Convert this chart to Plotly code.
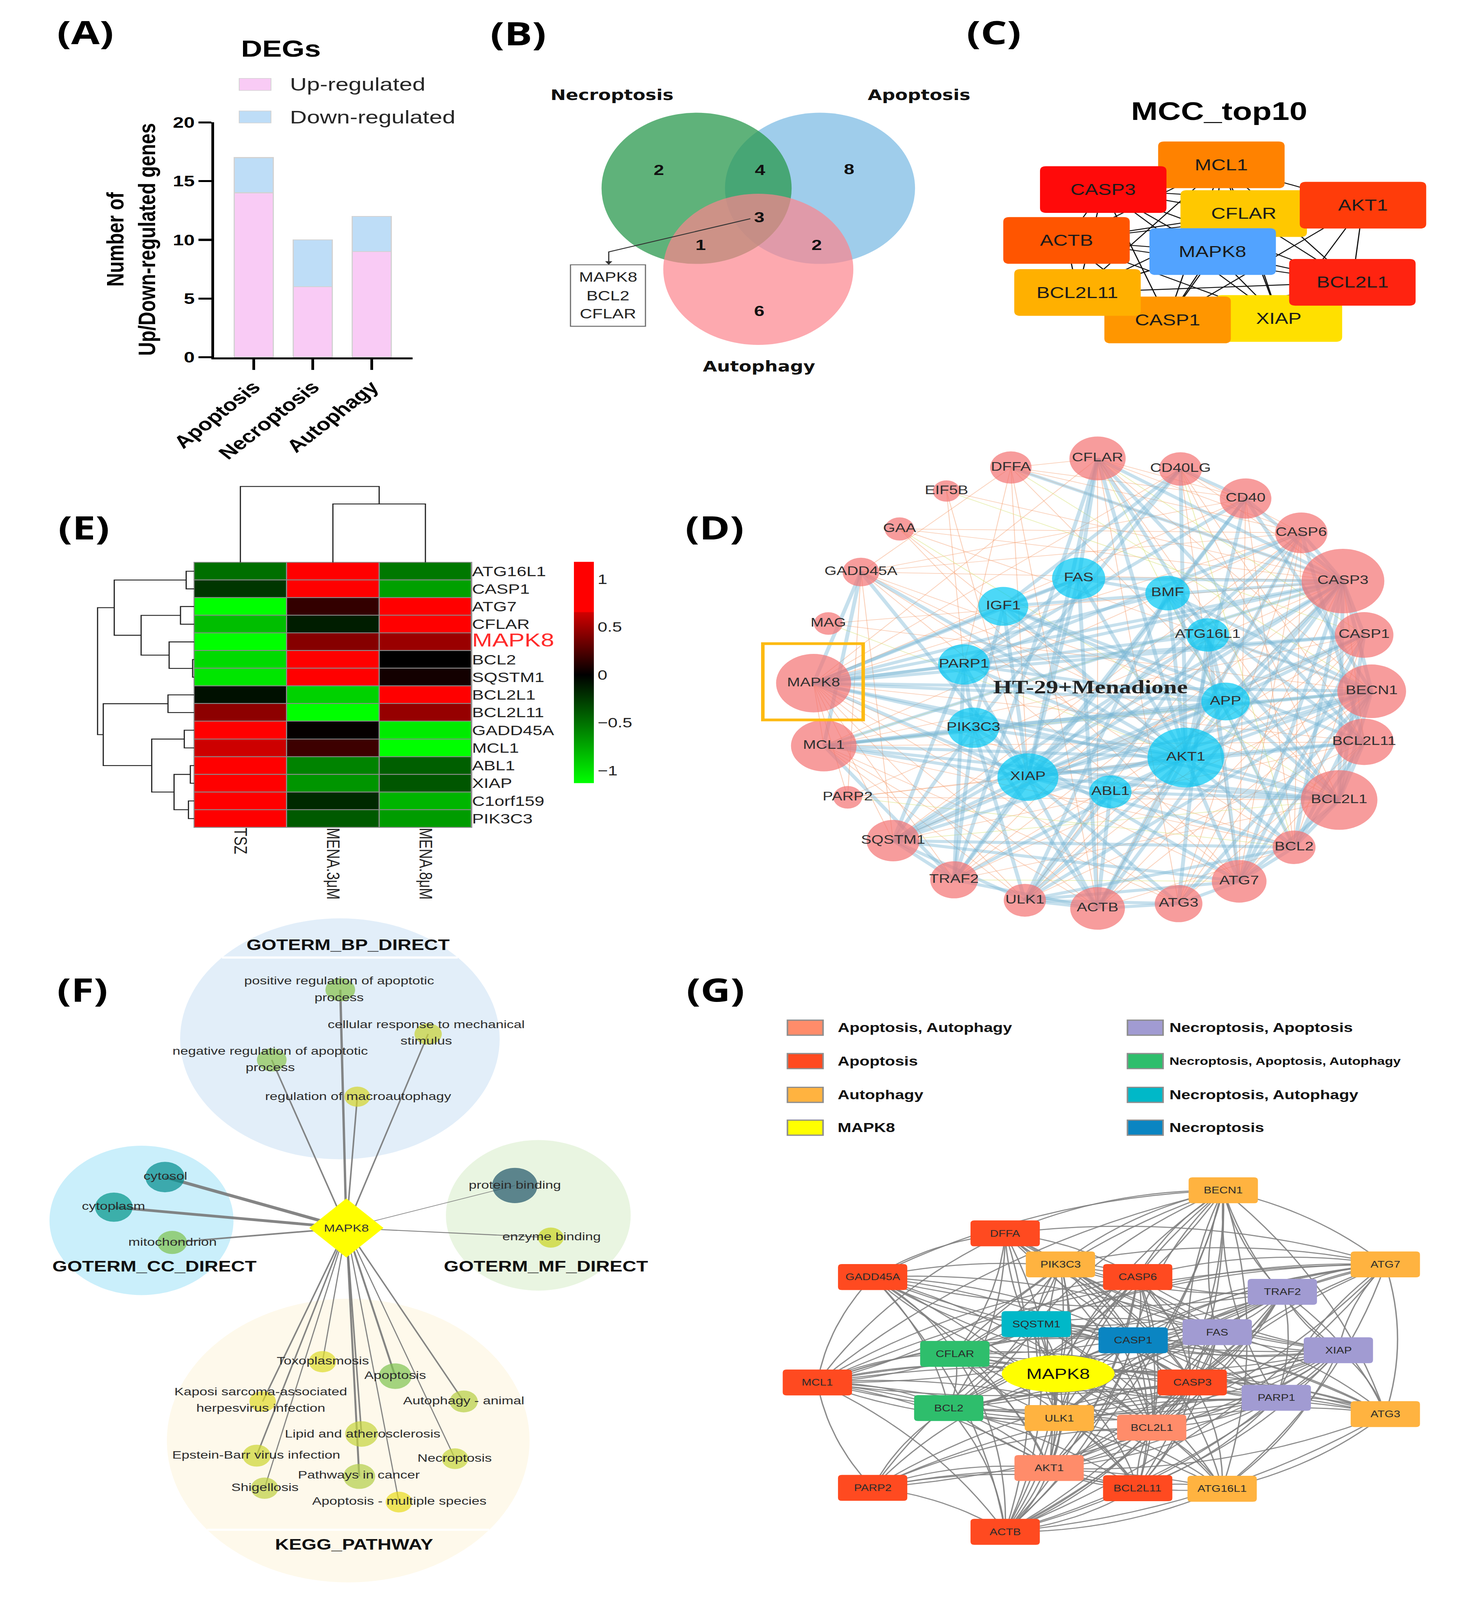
import math
import itertools
import plotly.graph_objects as go

W, H = 3760, 5257

# ======================= DATA =======================
# (A) numbers of DEGs
deg_categories = ['Apoptosis', 'Necroptosis', 'Autophagy']
deg_up = [14, 6, 9]
deg_down = [3, 4, 3]
deg_series = ['Up-regulated', 'Down-regulated']

# (B) Venn region counts
venn_sets = ['Necroptosis', 'Apoptosis', 'Autophagy']
venn_regions = ['N', 'N&A', 'A', 'N&A&Au', 'N&Au', 'A&Au', 'Au']
venn_counts = [2, 4, 8, 3, 1, 2, 6]
venn_core_genes = ['MAPK8', 'BCL2', 'CFLAR']

# (C) MCC top10 hub genes
mcc_genes = ['MCL1', 'CASP3', 'CFLAR', 'AKT1', 'ACTB', 'MAPK8', 'XIAP', 'CASP1', 'BCL2L11', 'BCL2L1']
mcc_edges = list(itertools.combinations(mcc_genes, 2))

# (E) heatmap (row-scaled expression)
hm_samples = ['TSZ', 'MENA.3μM', 'MENA.8μM']
hm_genes = ['ATG16L1', 'CASP1', 'ATG7', 'CFLAR', 'MAPK8', 'BCL2', 'SQSTM1', 'BCL2L1',
            'BCL2L11', 'GADD45A', 'MCL1', 'ABL1', 'XIAP', 'C1orf159', 'PIK3C3']
hm_tsz = [-0.49, -0.24, -1.13, -0.84, -1.13, -0.97, -1.02, -0.07, 0.44, 1.10, 0.64, 1.10, 1.10, 1.10, 1.10]
hm_mena3 = [1.10, 1.10, 0.16, -0.13, 0.42, 1.10, 0.90, -0.93, -1.13, 0.02, 0.19, -0.58, -0.66, -0.18, -0.40]
hm_mena8 = [-0.53, -0.71, 0.75, 1.10, 0.48, 0.00, 0.06, 1.10, 0.47, -1.04, -1.13, -0.42, -0.38, -0.80, -0.69]
# cluster trees: (left, right, merge height)
hm_row_tree = (
    (('ATG16L1', 'CASP1', 0.21),
     (('ATG7', 'CFLAR', 0.36), ('MAPK8', ('BCL2', 'SQSTM1', 0.04), 0.66), 1.40),
     2.11),
    (('BCL2L1', 'BCL2L11', 0.69),
     (('GADD45A', 'MCL1', 0.26), (('ABL1', 'XIAP', 0.10), ('C1orf159', 'PIK3C3', 0.15), 0.53), 1.12),
     2.40),
    2.55)
hm_col_tree = ('TSZ', ('MENA.3μM', 'MENA.8μM', 1.94), 2.52)

# (D) PPI network HT-29 + Menadione
d_outer = ['CFLAR', 'CD40LG', 'CD40', 'CASP6', 'CASP3', 'CASP1', 'BECN1', 'BCL2L11', 'BCL2L1', 'BCL2',
           'ATG7', 'ATG3', 'ACTB', 'ULK1', 'TRAF2', 'SQSTM1', 'PARP2', 'MCL1', 'MAPK8', 'MAG',
           'GADD45A', 'GAA', 'EIF5B', 'DFFA']
d_inner = ['FAS', 'BMF', 'IGF1', 'ATG16L1', 'PARP1', 'APP', 'PIK3C3', 'AKT1', 'XIAP', 'ABL1']
d_strong = {
    'MAPK8': ['APP', 'AKT1', 'BECN1', 'CASP3', 'IGF1', 'FAS', 'PARP1', 'BCL2L1', 'XIAP', 'CASP1', 'ATG16L1', 'GADD45A', 'BMF'],
    'MCL1': ['AKT1', 'XIAP', 'BCL2L1', 'BECN1', 'CASP3', 'APP', 'PIK3C3', 'TRAF2'],
    'CFLAR': ['FAS', 'XIAP', 'CASP3', 'AKT1', 'BCL2L11', 'TRAF2', 'ATG16L1'],
    'CD40LG': ['CD40', 'FAS', 'AKT1', 'IGF1', 'PIK3C3'],
    'CD40': ['TRAF2', 'AKT1', 'CASP3', 'BECN1', 'PARP1', 'XIAP'],
    'CASP6': ['CASP3', 'BCL2L11', 'XIAP', 'PARP1', 'ACTB'],
    'CASP3': ['XIAP', 'PARP1', 'AKT1', 'BCL2', 'BCL2L1', 'ATG7', 'BECN1', 'IGF1', 'FAS', 'CASP1', 'ACTB', 'SQSTM1', 'DFFA', 'APP'],
    'CASP1': ['XIAP', 'BCL2L1', 'ATG7', 'APP', 'PARP1'],
    'BECN1': ['BCL2', 'BCL2L1', 'ATG7', 'ATG3', 'PIK3C3', 'ULK1', 'AKT1', 'ATG16L1', 'SQSTM1', 'BMF', 'XIAP'],
    'BCL2L11': ['BCL2L1', 'BCL2', 'AKT1', 'XIAP', 'IGF1', 'BMF'],
    'BCL2L1': ['BCL2', 'AKT1', 'XIAP', 'BMF', 'ATG7', 'APP', 'ABL1'],
    'BCL2': ['AKT1', 'ATG7', 'XIAP', 'BMF', 'SQSTM1', 'ULK1'],
    'ATG7': ['ATG3', 'ATG16L1', 'ULK1', 'SQSTM1', 'PIK3C3', 'AKT1'],
    'ATG3': ['ATG16L1', 'ULK1', 'ACTB', 'XIAP'],
    'ACTB': ['AKT1', 'ABL1', 'XIAP', 'TRAF2', 'ULK1', 'PIK3C3', 'FAS'],
    'ULK1': ['PIK3C3', 'SQSTM1', 'AKT1', 'ABL1', 'BMF', 'ATG16L1'],
    'TRAF2': ['XIAP', 'AKT1', 'PIK3C3', 'PARP1', 'SQSTM1'],
    'SQSTM1': ['XIAP', 'ATG16L1', 'APP', 'PIK3C3', 'PARP1'],
    'GADD45A': ['AKT1', 'XIAP', 'MCL1'],
    'AKT1': ['XIAP', 'IGF1', 'FAS', 'APP', 'PARP1', 'PIK3C3', 'BMF', 'ABL1'],
    'FAS': ['XIAP', 'PARP1', 'BMF', 'IGF1'],
    'IGF1': ['PIK3C3', 'XIAP', 'APP'],
    'PARP1': ['XIAP', 'PIK3C3', 'APP'],
    'APP': ['ATG16L1', 'XIAP'],
    'ABL1': ['XIAP'],
}
d_weak = {
    'DFFA': ['CASP3', 'CASP6', 'CD40', 'PARP1', 'XIAP', 'ACTB', 'GADD45A', 'BCL2L1', 'CFLAR'],
    'EIF5B': ['PARP1', 'XIAP', 'CASP3'],
    'GAA': ['CASP3', 'ATG7', 'BECN1', 'AKT1', 'CASP6'],
    'GADD45A': ['CASP3', 'BCL2L1', 'PARP2', 'ATG7', 'CD40', 'BCL2', 'SQSTM1', 'CASP6', 'APP'],
    'MAG': ['CASP3', 'BECN1'],
    'PARP2': ['CASP3', 'AKT1', 'XIAP', 'BCL2L1'],
    'CFLAR': ['CD40', 'CASP6', 'BCL2L1', 'BECN1', 'ACTB', 'ATG3'],
    'CD40LG': ['CASP3', 'BCL2L11', 'CASP6', 'BCL2L1', 'ATG7'],
    'MAPK8': ['CASP6', 'BCL2L11', 'BCL2', 'ATG7', 'ATG3', 'ULK1', 'ACTB', 'SQSTM1', 'TRAF2', 'MCL1',
              'CD40', 'CD40LG', 'CFLAR', 'PARP2'],
    'MCL1': ['CASP1', 'BCL2L11', 'BCL2', 'CASP6', 'ACTB', 'ATG3', 'ULK1'],
    'CASP3': ['ATG3', 'BCL2L11', 'TRAF2', 'ULK1'],
    'SQSTM1': ['CASP6', 'CASP1', 'BCL2L11'],
    'TRAF2': ['CASP1', 'BCL2L1', 'BECN1', 'CASP6'],
    'ACTB': ['BCL2', 'CASP1', 'BECN1', 'CASP6'],
    'ULK1': ['CASP6', 'BCL2L11', 'CASP1'],
    'ATG3': ['CASP1', 'BCL2L11', 'CASP6'],
    'ATG7': ['CASP6', 'CD40', 'BCL2L11'],
    'BCL2': ['CASP6', 'CD40', 'CASP1'],
}
d_light = {
    'EIF5B': ['CASP1'], 'GAA': ['BCL2L1'], 'MAG': ['AKT1'], 'DFFA': ['BECN1'],
    'PARP2': ['BCL2'], 'CD40LG': ['BCL2'], 'CFLAR': ['CASP1', 'BCL2'], 'MCL1': ['BECN1', 'CASP3'],
    'SQSTM1': ['BCL2L1'], 'TRAF2': ['ATG7'],
}

# (F) MAPK8 functional enrichment
f_center = 'MAPK8'
f_terms = ['positive regulation of apoptotic process', 'cellular response to mechanical stimulus',
           'negative regulation of apoptotic process', 'regulation of macroautophagy',
           'cytosol', 'cytoplasm', 'mitochondrion',
           'protein binding', 'enzyme binding',
           'Toxoplasmosis', 'Apoptosis', 'Kaposi sarcoma-associated herpesvirus infection',
           'Autophagy - animal', 'Lipid and atherosclerosis', 'Epstein-Barr virus infection',
           'Necroptosis', 'Pathways in cancer', 'Shigellosis', 'Apoptosis - multiple species']
f_category = ['GOTERM_BP_DIRECT'] * 4 + ['GOTERM_CC_DIRECT'] * 3 + ['GOTERM_MF_DIRECT'] * 2 + ['KEGG_PATHWAY'] * 10

# (G) gene - pathway membership network
g_categories = ['Apoptosis, Autophagy', 'Apoptosis', 'Autophagy', 'MAPK8',
                'Necroptosis, Apoptosis', 'Necroptosis, Apoptosis, Autophagy', 'Necroptosis, Autophagy', 'Necroptosis']
g_gene_category = {
    'BECN1': 'Autophagy', 'DFFA': 'Apoptosis', 'PIK3C3': 'Autophagy', 'CASP6': 'Apoptosis',
    'ATG7': 'Autophagy', 'GADD45A': 'Apoptosis', 'TRAF2': 'Necroptosis, Apoptosis',
    'SQSTM1': 'Necroptosis, Autophagy', 'CASP1': 'Necroptosis', 'FAS': 'Necroptosis, Apoptosis',
    'XIAP': 'Necroptosis, Apoptosis', 'CFLAR': 'Necroptosis, Apoptosis, Autophagy', 'MAPK8': 'MAPK8',
    'MCL1': 'Apoptosis', 'CASP3': 'Apoptosis', 'PARP1': 'Necroptosis, Apoptosis',
    'BCL2': 'Necroptosis, Apoptosis, Autophagy', 'ATG3': 'Autophagy', 'ULK1': 'Autophagy',
    'BCL2L1': 'Apoptosis, Autophagy', 'AKT1': 'Apoptosis, Autophagy', 'PARP2': 'Apoptosis',
    'BCL2L11': 'Apoptosis', 'ATG16L1': 'Autophagy', 'ACTB': 'Apoptosis',
}
g_adjacency = {
    'MAPK8': [g for g in g_gene_category if g != 'MAPK8'],
    'BECN1': ['ATG7', 'ATG3', 'ATG16L1', 'PIK3C3', 'ULK1', 'SQSTM1', 'BCL2', 'BCL2L1', 'BCL2L11', 'MCL1', 'CASP3',
              'CASP6', 'DFFA', 'TRAF2', 'FAS', 'XIAP', 'AKT1', 'ACTB', 'CFLAR', 'CASP1', 'PARP1', 'GADD45A'],
    'ATG7': ['ATG3', 'ATG16L1', 'ULK1', 'SQSTM1', 'PIK3C3', 'CASP3', 'BCL2', 'BCL2L1', 'TRAF2', 'XIAP', 'FAS',
             'AKT1', 'ACTB', 'PARP1', 'CASP1', 'CASP6', 'DFFA', 'MCL1', 'CFLAR'],
    'ATG3': ['ATG16L1', 'ULK1', 'SQSTM1', 'BCL2L1', 'CASP3', 'XIAP', 'PARP1', 'AKT1', 'ACTB', 'MCL1', 'FAS',
             'TRAF2', 'BCL2', 'CASP1'],
    'ATG16L1': ['ULK1', 'SQSTM1', 'CASP3', 'BCL2L1', 'AKT1', 'ACTB', 'MCL1', 'PARP2', 'XIAP', 'CASP1', 'BCL2L11'],
    'DFFA': ['CASP3', 'CASP6', 'PARP1', 'GADD45A', 'ACTB', 'BCL2', 'CFLAR', 'XIAP', 'PIK3C3', 'CASP1', 'BCL2L1',
             'MCL1', 'AKT1', 'FAS'],
    'GADD45A': ['MCL1', 'BCL2', 'CASP3', 'AKT1', 'ACTB', 'CASP6', 'PARP1', 'XIAP', 'TRAF2', 'BCL2L1', 'CFLAR',
                'SQSTM1', 'CASP1', 'FAS', 'BCL2L11'],
    'MCL1': ['BCL2', 'BCL2L1', 'BCL2L11', 'CASP3', 'AKT1', 'ACTB', 'PARP2', 'XIAP', 'PARP1', 'CFLAR', 'SQSTM1',
             'CASP6', 'ULK1', 'FAS', 'TRAF2', 'CASP1', 'PIK3C3'],
    'PARP2': ['PARP1', 'ACTB', 'CASP3', 'AKT1', 'BCL2L1', 'BCL2', 'CASP6', 'XIAP', 'BCL2L11'],
    'ACTB': ['AKT1', 'CASP3', 'BCL2', 'BCL2L1', 'BCL2L11', 'CASP1', 'CFLAR', 'SQSTM1', 'ULK1', 'PIK3C3', 'XIAP',
             'FAS', 'TRAF2', 'CASP6', 'PARP1'],
    'PIK3C3': ['ULK1', 'SQSTM1', 'AKT1', 'CASP3', 'BCL2', 'BCL2L1', 'CASP6', 'TRAF2', 'FAS', 'XIAP', 'CFLAR', 'CASP1'],
    'CASP6': ['CASP3', 'PARP1', 'XIAP', 'BCL2L1', 'AKT1', 'TRAF2', 'FAS', 'CFLAR', 'CASP1', 'BCL2', 'ULK1', 'BCL2L11'],
    'TRAF2': ['XIAP', 'FAS', 'CASP3', 'CFLAR', 'CASP1', 'AKT1', 'BCL2L1', 'PARP1', 'SQSTM1', 'BCL2', 'ULK1'],
    'SQSTM1': ['CASP1', 'CASP3', 'FAS', 'XIAP', 'BCL2', 'CFLAR', 'AKT1', 'ULK1', 'BCL2L1', 'PARP1'],
    'CASP1': ['CASP3', 'FAS', 'XIAP', 'BCL2', 'CFLAR', 'AKT1', 'BCL2L1', 'PARP1', 'ULK1', 'BCL2L11'],
    'FAS': ['XIAP', 'CASP3', 'CFLAR', 'AKT1', 'BCL2', 'BCL2L1', 'PARP1', 'BCL2L11', 'ULK1'],
    'XIAP': ['CASP3', 'PARP1', 'AKT1', 'BCL2', 'BCL2L1', 'BCL2L11', 'CFLAR', 'ULK1'],
    'CFLAR': ['CASP3', 'BCL2', 'AKT1', 'BCL2L1', 'PARP1', 'ULK1', 'BCL2L11'],
    'CASP3': ['PARP1', 'AKT1', 'BCL2', 'BCL2L1', 'BCL2L11', 'ULK1'],
    'PARP1': ['AKT1', 'BCL2', 'BCL2L1', 'BCL2L11'],
    'BCL2': ['BCL2L1', 'BCL2L11', 'AKT1', 'ULK1'],
    'ULK1': ['AKT1', 'BCL2L1', 'BCL2L11'],
    'BCL2L1': ['AKT1', 'BCL2L11'],
    'AKT1': ['BCL2L11'],
}

# ======================= LAYOUT / STYLE =======================
FONT = 'Liberation Sans'
annots, shapes = [], []


def add_text(x, y, text, size, color='#000000', family=FONT, weight='normal',
             xanchor='center', yanchor='middle', angle=0):
    annots.append(dict(x=x, y=y, xref='x3', yref='y3', text=text, showarrow=False,
                       font=dict(size=size, color=color, family=family, weight=weight),
                       xanchor=xanchor, yanchor=yanchor, textangle=angle))


def rrect_path(cx, cy, w, h, r):
    x0, x1, y0, y1 = cx - w / 2, cx + w / 2, cy - h / 2, cy + h / 2
    return (f"M{x0 + r},{y0} L{x1 - r},{y0} Q{x1},{y0} {x1},{y0 + r} L{x1},{y1 - r} "
            f"Q{x1},{y1} {x1 - r},{y1} L{x0 + r},{y1} Q{x0},{y1} {x0},{y1 - r} "
            f"L{x0},{y0 + r} Q{x0},{y0} {x0 + r},{y0} Z")


def uniq_edges(adj):
    seen, out = set(), []
    for a, nbrs in adj.items():
        for b in nbrs:
            k = tuple(sorted((a, b)))
            if a != b and k not in seen:
                seen.add(k)
                out.append(k)
    return out


def seg_xy(edges, pos):
    xs, ys = [], []
    for a, b in edges:
        xs += [pos[a][0], pos[b][0], None]
        ys += [pos[a][1], pos[b][1], None]
    return xs, ys


fig = go.Figure()
PIX = dict(xaxis='x3', yaxis='y3', hoverinfo='skip', showlegend=False)

# panel letters
for lab, (x, y) in {'(A)': (106, 78), '(B)': (1249, 82), '(C)': (2505, 78), '(D)': (1768, 1722),
                    '(E)': (102, 1722), '(F)': (98, 3257), '(G)': (1770, 3257)}.items():
    add_text(x, y, lab, 106, family='Open Sans', weight='bold')

# ---------------- (A) stacked bars ----------------
A_COL = {'Up-regulated': '#F9CBF5', 'Down-regulated': '#BEDDF7'}
for name, vals in zip(deg_series, [deg_up, deg_down]):
    fig.add_trace(go.Bar(x=deg_categories, y=vals, name=name, width=0.66,
                         marker=dict(color=A_COL[name], line=dict(color='#D2D2D2', width=3)),
                         xaxis='x', yaxis='y', hoverinfo='skip', showlegend=False))
add_text(622, 134, 'DEGs', 75, weight='bold')
for i, name in enumerate(deg_series):
    yc = 253 + i * 108
    shapes.append(dict(type='rect', xref='x3', yref='y3', x0=512, x1=596, y0=yc - 20, y1=yc + 20,
                       fillcolor=A_COL[name], line=dict(color='#D2D2D2', width=2), layer='above'))
    add_text(644, yc, name, 60, color='#262626', xanchor='left')
add_text(226, 768, '<b>Number of<br>Up/Down-regulated genes</b>', 62, angle=-90)

# ---------------- (B) Venn ----------------
venn_geom = {'Necroptosis': (1720, 598, 251), 'Apoptosis': (2046, 598, 251), 'Autophagy': (1883, 867, 251)}
venn_fill = {'Apoptosis': 'rgba(118,184,226,0.70)', 'Necroptosis': 'rgba(42,152,78,0.75)',
             'Autophagy': 'rgba(252,132,141,0.70)'}
for s in ['Apoptosis', 'Necroptosis', 'Autophagy']:
    cx, cy, r = venn_geom[s]
    shapes.append(dict(type='circle', xref='x3', yref='y3', x0=cx - r, x1=cx + r, y0=cy - r, y1=cy + r,
                       fillcolor=venn_fill[s], line=dict(width=0), layer='below'))
venn_set_label = {'Necroptosis': (1497, 288), 'Apoptosis': (2308, 288), 'Autophagy': (1885, 1190)}
for s in venn_sets:
    add_text(*venn_set_label[s], s, 47, family='DejaVu Sans', weight='bold', color='#111111')
venn_num_pos = {'N': (1621, 537), 'N&A': (1888, 537), 'A': (2123, 534), 'N&A&Au': (1886, 694),
                'N&Au': (1731, 786), 'A&Au': (2037, 786), 'Au': (1886, 1005)}
for k, c in zip(venn_regions, venn_counts):
    add_text(*venn_num_pos[k], str(c), 48, weight='bold', color='#111111')
fig.add_trace(go.Scatter(x=[1862, 1488, 1488], y=[699, 809, 842], mode='lines',
                         line=dict(color='#333333', width=3), **PIX))
fig.add_trace(go.Scatter(x=[1488], y=[844], mode='markers',
                         marker=dict(symbol='triangle-down', size=16, color='#333333'), **PIX))
shapes.append(dict(type='rect', xref='x3', yref='y3', x0=1387, x1=1585, y0=852, y1=1056,
                   fillcolor='white', line=dict(color='#6E6E6E', width=3), layer='above'))
for g, yy in zip(venn_core_genes, [893, 954, 1014]):
    add_text(1486, yy, g, 44, color='#222222')

# ---------------- (C) MCC top10 ----------------
add_text(3100, 342, 'MCC_top10', 82, weight='bold')
C_pos = {'MCL1': (3106, 520), 'CASP3': (2794, 602), 'CFLAR': (3165, 682), 'AKT1': (3480, 654),
         'ACTB': (2697, 771), 'MAPK8': (3083, 808), 'XIAP': (3258, 1030), 'CASP1': (2964, 1035),
         'BCL2L11': (2726, 944), 'BCL2L1': (3452, 910)}
C_col = {'MCL1': '#FF8200', 'CASP3': '#FF0A0A', 'CFLAR': '#FFC800', 'AKT1': '#FF3C0A', 'ACTB': '#FF5500',
         'MAPK8': '#52A3FF', 'XIAP': '#FFE000', 'CASP1': '#FF9600', 'BCL2L11': '#FFB000', 'BCL2L1': '#FF2310'}
cx_, cy_ = seg_xy(mcc_edges, C_pos)
fig.add_trace(go.Scatter(x=cx_, y=cy_, mode='lines', line=dict(color='#111111', width=3), **PIX))
for g in mcc_genes:
    x, y = C_pos[g]
    shapes.append(dict(type='path', xref='x3', yref='y3', path=rrect_path(x, y, 334, 155, 16),
                       fillcolor=C_col[g], line=dict(width=0), layer='above'))
for g in mcc_genes:
    add_text(*C_pos[g], g, 51, color='#1A1A1A')

# ---------------- (E) heatmap + dendrograms ----------------
HM_X0, HM_X1, HM_Y0, HM_Y1 = 393, 1126, 1840, 2720
shapes.append(dict(type='rect', xref='paper', yref='paper', x0=HM_X0 / W, x1=HM_X1 / W,
                   y0=1 - HM_Y1 / H, y1=1 - HM_Y0 / H, fillcolor='#8C8C8C',
                   line=dict(color='#8C8C8C', width=3), layer='below'))
ZMIN, ZMAX = -1.13, 1.18
def nz(v):
    return (v - ZMIN) / (ZMAX - ZMIN)
hm_cs = [[0, '#00FF00'], [nz(0), '#000000'], [nz(0.65), '#D00000'], [nz(0.66), '#FF0000'], [1, '#FF0000']]
z = [[a, b, c] for a, b, c in zip(hm_tsz, hm_mena3, hm_mena8)]
fig.add_trace(go.Heatmap(z=z, x=hm_samples, y=hm_genes, xaxis='x2', yaxis='y2', colorscale=hm_cs,
                         zmin=ZMIN, zmax=ZMAX, xgap=3, ygap=3, hoverinfo='skip',
                         colorbar=dict(x=1396 / W, xanchor='left', y=1 - (1838 + 2573) / 2 / H,
                                       yanchor='middle', len=(2573 - 1838) / H, lenmode='fraction',
                                       thickness=51, thicknessmode='pixels', outlinewidth=0,
                                       xpad=0, ypad=0, ticks='', tickvals=[-1, -0.5, 0, 0.5, 1],
                                       tickfont=dict(size=45, family=FONT, color='#222222'))))

def dendro(tree, leafpos):
    if isinstance(tree, str):
        return leafpos[tree], 0.0, []
    a, b, h = tree
    pa, ha, sa = dendro(a, leafpos)
    pb, hb, sb = dendro(b, leafpos)
    return (pa + pb) / 2, h, sa + sb + [[(pa, ha), (pa, h), (pb, h), (pb, hb)]]

DEN_SCALE = 100.0
row_h = (HM_Y1 - HM_Y0) / len(hm_genes)
col_w = (HM_X1 - HM_X0) / len(hm_samples)
row_pos = {g: HM_Y0 + (i + 0.5) * row_h for i, g in enumerate(hm_genes)}
col_pos = {s: HM_X0 + (j + 0.5) * col_w for j, s in enumerate(hm_samples)}
dx, dy = [], []
for seg in dendro(hm_row_tree, row_pos)[2]:
    for p, h in seg:
        dx.append(HM_X0 - h * DEN_SCALE)
        dy.append(p)
    dx.append(None); dy.append(None)
for seg in dendro(hm_col_tree, col_pos)[2]:
    for p, h in seg:
        dx.append(p)
        dy.append(HM_Y0 - h * DEN_SCALE)
    dx.append(None); dy.append(None)
fig.add_trace(go.Scatter(x=dx, y=dy, mode='lines', line=dict(color='#222222', width=3), **PIX))
hm_ticktext = [f'<span style="color:#FF2A2A;font-size:62px">{g}</span>' if g == 'MAPK8' else g
               for g in hm_genes]

# ---------------- (D) PPI network ----------------
D_pos = {
    'CFLAR': (2779, 1495, 72), 'DFFA': (2550, 1525, 53), 'CD40LG': (2998, 1530, 55), 'EIF5B': (2380, 1603, 35),
    'CD40': (3170, 1628, 66), 'GAA': (2256, 1729, 38), 'CASP6': (3317, 1742, 67), 'GADD45A': (2154, 1872, 47),
    'CASP3': (3427, 1902, 106), 'MAG': (2068, 2043, 37), 'CASP1': (3483, 2081, 75), 'MAPK8': (2029, 2241, 96),
    'BECN1': (3503, 2268, 88), 'MCL1': (2056, 2449, 84), 'BCL2L11': (3483, 2436, 76), 'PARP2': (2119, 2620, 37),
    'BCL2L1': (3417, 2629, 98), 'SQSTM1': (2239, 2764, 68), 'BCL2': (3298, 2786, 55), 'TRAF2': (2400, 2894, 61),
    'ATG7': (3153, 2899, 70), 'ULK1': (2587, 2962, 54), 'ACTB': (2779, 2989, 70), 'ATG3': (2993, 2973, 61),
    'FAS': (2729, 1893, 68), 'BMF': (2964, 1942, 57), 'IGF1': (2530, 1986, 64), 'ATG16L1': (3070, 2081, 55),
    'PARP1': (2426, 2179, 66), 'APP': (3117, 2302, 62), 'PIK3C3': (2451, 2389, 66), 'AKT1': (3012, 2488, 98),
    'XIAP': (2595, 2553, 78), 'ABL1': (2813, 2602, 54),
}
for adj, col, wd in [(d_weak, 'rgba(245,150,100,0.45)', 2.2), (d_light, 'rgba(215,225,120,0.55)', 2.2),
                     (d_strong, 'rgba(120,180,212,0.42)', 10)]:
    ex, ey = seg_xy(uniq_edges(adj), D_pos)
    fig.add_trace(go.Scatter(x=ex, y=ey, mode='lines', line=dict(color=col, width=wd), **PIX))
for genes, col in [(d_outer, '#F47272'), (d_inner, '#00C8F4')]:
    fig.add_trace(go.Scatter(x=[D_pos[g][0] for g in genes], y=[D_pos[g][1] for g in genes],
                             mode='markers+text', text=genes, textposition='middle center',
                             textfont=dict(size=40, family=FONT, color='#303030'),
                             marker=dict(size=[2 * D_pos[g][2] for g in genes], color=col, line=dict(width=0)),
                             **PIX))
add_text(2760, 2254, 'HT-29+Menadione', 62, family='Liberation Serif', weight='bold', color='#222222')
shapes.append(dict(type='rect', xref='x3', yref='y3', x0=1895, x1=2160, y0=2110, y1=2363,
                   line=dict(color='#FDBA12', width=9), layer='above'))

# ---------------- (F) enrichment network ----------------
F_ell = {'GOTERM_BP_DIRECT': (778, 3422, 422, 400, '#E2EEF9'),
         'GOTERM_CC_DIRECT': (254, 4025, 243, 248, '#CAEFFB'),
         'GOTERM_MF_DIRECT': (1302, 4008, 244, 250, '#E9F5E1'),
         'KEGG_PATHWAY': (800, 4756, 479, 471, '#FEF9EB')}
for k, (cx, cy, rx, ry, col) in F_ell.items():
    shapes.append(dict(type='circle', xref='x3', yref='y3', x0=cx - rx, x1=cx + rx, y0=cy - ry, y1=cy + ry,
                       fillcolor=col, line=dict(width=0), layer='below'))
for k, yl in [('GOTERM_BP_DIRECT', 3152), ('KEGG_PATHWAY', 5052)]:
    cx, cy, rx, ry, _ = F_ell[k]
    half = rx * math.sqrt(max(0.0, 1 - ((yl - cy) / ry) ** 2))
    shapes.append(dict(type='line', xref='x3', yref='y3', x0=cx - half, x1=cx + half, y0=yl, y1=yl,
                       line=dict(color='white', width=7), layer='below'))
F_title = {'GOTERM_BP_DIRECT': (800, 3110), 'GOTERM_CC_DIRECT': (288, 4177),
           'GOTERM_MF_DIRECT': (1322, 4177), 'KEGG_PATHWAY': (816, 5100)}
for k, p in F_title.items():
    add_text(*p, k, 49, weight='bold', color='#111111')
F_c = (795, 4050)
F_node = {
    'positive regulation of apoptotic process': (779, 3259, 38, '#88C24A', 6),
    'cellular response to mechanical stimulus': (1011, 3406, 35, '#C8D232', 4),
    'negative regulation of apoptotic process': (598, 3492, 38, '#8CC450', 4),
    'regulation of macroautophagy': (824, 3614, 33, '#D4D42A', 4),
    'cytosol': (316, 3881, 50, '#008B8B', 10),
    'cytoplasm': (181, 3981, 48, '#009488', 9),
    'mitochondrion': (335, 4098, 38, '#7DC24B', 5),
    'protein binding': (1240, 3909, 58, '#1E5468', 2),
    'enzyme binding': (1335, 4082, 33, '#C9D421', 3),
    'Toxoplasmosis': (732, 4494, 35, '#DDDB2A', 3),
    'Apoptosis': (924, 4542, 42, '#7EC350', 5),
    'Kaposi sarcoma-associated herpesvirus infection': (574, 4626, 34, '#E0DA2A', 4),
    'Autophagy - animal': (1105, 4626, 36, '#B5CF42', 4),
    'Lipid and atherosclerosis': (835, 4734, 42, '#C4D43C', 4),
    'Epstein-Barr virus infection': (558, 4806, 36, '#CCD630', 4),
    'Necroptosis': (1082, 4816, 34, '#C5D53A', 3),
    'Pathways in cancer': (829, 4875, 41, '#B2CE48', 5),
    'Shigellosis': (579, 4914, 35, '#BDD040', 3),
    'Apoptosis - multiple species': (934, 4960, 34, '#E8DC1C', 3),
}
F_label = {
    'positive regulation of apoptotic process': (776, 3260, ['positive regulation of apoptotic', 'process']),
    'cellular response to mechanical stimulus': (1006, 3405, ['cellular response to mechanical', 'stimulus']),
    'negative regulation of apoptotic process': (594, 3493, ['negative regulation of apoptotic', 'process']),
    'Kaposi sarcoma-associated herpesvirus infection': (569, 4624, ['Kaposi sarcoma-associated', 'herpesvirus infection']),
    'cytosol': (317, 3881, None), 'cytoplasm': (180, 3981, None), 'mitochondrion': (336, 4100, None),
    'protein binding': (1240, 3911, None), 'enzyme binding': (1337, 4082, None),
    'Toxoplasmosis': (733, 4494, None), 'Apoptosis': (924, 4542, None), 'Autophagy - animal': (1105, 4626, None),
    'Lipid and atherosclerosis': (838, 4737, None), 'Epstein-Barr virus infection': (557, 4807, None),
    'Necroptosis': (1081, 4817, None), 'Pathways in cancer': (828, 4873, None), 'Shigellosis': (580, 4914, None),
    'Apoptosis - multiple species': (935, 4960, None), 'regulation of macroautophagy': (826, 3616, None),
}
for t in f_terms:
    x, y, r, col, wd = F_node[t]
    fig.add_trace(go.Scatter(x=[F_c[0], x], y=[F_c[1], y], mode='lines',
                             line=dict(color='rgba(120,120,120,0.9)', width=wd), **PIX))
fig.add_trace(go.Scatter(x=[F_node[t][0] for t in f_terms], y=[F_node[t][1] for t in f_terms], mode='markers',
                         marker=dict(size=[2 * F_node[t][2] for t in f_terms], color=[F_node[t][3] for t in f_terms],
                                     line=dict(width=0)), **PIX))
lx, ly, lt = [], [], []
for t in f_terms:
    x, y, lines = F_label[t]
    if lines is None:
        lx.append(x); ly.append(y); lt.append(t)
    else:
        for i, ln in enumerate(lines):
            lx.append(x); ly.append(y + (i - 0.5) * 55); lt.append(ln)
fig.add_trace(go.Scatter(x=lx, y=ly, mode='text', text=lt, textposition='middle center',
                         textfont=dict(size=36, family=FONT, color='#2C2C2C'), **PIX))
shapes.append(dict(type='path', xref='x3', yref='y3',
                   path=f"M{F_c[0]},{F_c[1] - 98} L{F_c[0] + 98},{F_c[1]} L{F_c[0]},{F_c[1] + 98} L{F_c[0] - 98},{F_c[1]} Z",
                   fillcolor='#FFFF00', line=dict(width=0), layer='above'))
add_text(F_c[0], F_c[1], f_center, 34, color='#333333')

# ---------------- (G) category network ----------------
G_col = {'Apoptosis, Autophagy': '#FF8C6A', 'Apoptosis': '#FF4A20', 'Autophagy': '#FFB340', 'MAPK8': '#FFFF00',
         'Necroptosis, Apoptosis': '#A19BD2', 'Necroptosis, Apoptosis, Autophagy': '#2EBE6C',
         'Necroptosis, Autophagy': '#00B8C8', 'Necroptosis': '#0A85C2'}
G_leg_pos = {}
for i, c in enumerate(g_categories):
    colx = 0 if i < 4 else 1
    G_leg_pos[c] = ([1960, 2858][colx], [3385, 3496, 3608, 3717][i % 4])
for c in g_categories:
    x0, yc = G_leg_pos[c]
    shapes.append(dict(type='rect', xref='x3', yref='y3', x0=x0, x1=x0 + 94, y0=yc - 25, y1=yc + 25,
                       fillcolor=G_col[c], line=dict(color='#8E8E8E', width=4), layer='above'))
    fs = 35 if len(c) > 30 else 42
    add_text(x0 + (130 if x0 < 2500 else 108), yc, c, fs, weight='bold', xanchor='left', color='#111111')
G_pos = {
    'BECN1': (3111, 3925), 'DFFA': (2535, 4068), 'PIK3C3': (2681, 4171), 'CASP6': (2885, 4213),
    'ATG7': (3539, 4171), 'GADD45A': (2185, 4213), 'TRAF2': (3267, 4262), 'SQSTM1': (2617, 4369),
    'CASP1': (2873, 4423), 'FAS': (3095, 4396), 'XIAP': (3415, 4456), 'CFLAR': (2402, 4468),
    'MAPK8': (2675, 4534), 'MCL1': (2039, 4563), 'CASP3': (3029, 4563), 'PARP1': (3251, 4614),
    'BCL2': (2386, 4648), 'ATG3': (3539, 4668), 'ULK1': (2678, 4681), 'BCL2L1': (2922, 4713),
    'AKT1': (2651, 4847), 'PARP2': (2185, 4913), 'BCL2L11': (2885, 4914), 'ATG16L1': (3108, 4916),
    'ACTB': (2535, 5059),
}
gx, gy = [], []
for a, b in uniq_edges(g_adjacency):
    (x0, y0), (x2, y2) = G_pos[a], G_pos[b]
    mx, my = (x0 + x2) / 2, (y0 + y2) / 2
    cx, cy = mx - 0.13 * (y2 - y0), my + 0.13 * (x2 - x0)
    for i in range(17):
        t = i / 16
        gx.append((1 - t) ** 2 * x0 + 2 * (1 - t) * t * cx + t ** 2 * x2)
        gy.append((1 - t) ** 2 * y0 + 2 * (1 - t) * t * cy + t ** 2 * y2)
    gx.append(None); gy.append(None)
fig.add_trace(go.Scatter(x=gx, y=gy, mode='lines', line=dict(color='rgba(128,128,128,0.9)', width=3.5), **PIX))
for g, cat in g_gene_category.items():
    x, y = G_pos[g]
    if g == 'MAPK8':
        shapes.append(dict(type='circle', xref='x3', yref='y3', x0=x - 149, x1=x + 149, y0=y - 61, y1=y + 61,
                           fillcolor=G_col[cat], line=dict(width=0), layer='above'))
        add_text(x, y, g, 48, color='#111111')
    else:
        shapes.append(dict(type='path', xref='x3', yref='y3', path=rrect_path(x, y, 183, 86, 10),
                           fillcolor=G_col[cat], line=dict(width=0), layer='above'))
        add_text(x, y, g, 30, color='#2A2A2A')

# ======================= AXES =======================
fig.update_layout(
    width=W, height=H, margin=dict(l=0, r=0, t=0, b=0), paper_bgcolor='white',
    plot_bgcolor='rgba(0,0,0,0)', barmode='stack', showlegend=False,
    xaxis=dict(domain=[446 / W, 970 / W], anchor='y', type='category', range=[-0.667, 2.69],
               showline=True, linecolor='black', linewidth=7, ticks='outside', ticklen=34, tickwidth=7,
               tickcolor='black', tickangle=-45, showgrid=False, zeroline=False, fixedrange=True,
               tickfont=dict(size=58, family=FONT, color='black', weight='bold')),
    yaxis=dict(domain=[1 - 1159 / H, 1 - 379 / H], anchor='x', range=[0, 20], tickvals=[0, 5, 10, 15, 20],
               showline=True, linecolor='black', linewidth=7, ticks='outside', ticklen=33, tickwidth=7,
               tickcolor='black', showgrid=False, zeroline=False, fixedrange=True,
               tickfont=dict(size=50, family=FONT, color='black', weight='bold')),
    xaxis2=dict(domain=[HM_X0 / W, HM_X1 / W], anchor='y2', type='category', tickangle=90, ticks='',
                showgrid=False, zeroline=False, showline=False, fixedrange=True,
                tickfont=dict(size=46, family=FONT, color='#222222')),
    yaxis2=dict(domain=[1 - HM_Y1 / H, 1 - HM_Y0 / H], anchor='x2', type='category', autorange='reversed',
                side='right', ticks='', showgrid=False, zeroline=False, showline=False, fixedrange=True,
                tickvals=hm_genes, ticktext=hm_ticktext,
                tickfont=dict(size=45, family=FONT, color='#222222')),
    xaxis3=dict(domain=[0, 1], anchor='y3', range=[0, W], visible=False, fixedrange=True),
    yaxis3=dict(domain=[0, 1], anchor='x3', range=[H, 0], visible=False, fixedrange=True),
    shapes=shapes, annotations=annots,
)

# keep the whole 3760x5257 figure inside the visible window (no-op when the window is full size)
FIT_JS = """
(function(){
  var gd = document.getElementById('{plot_id}');
  if (!gd) { return; }
  document.documentElement.style.margin = '0'; document.body.style.margin = '0';
  document.documentElement.style.overflow = 'hidden'; document.body.style.overflow = 'hidden';
  function fit(){
    var iw = window.innerWidth, ih = window.innerHeight;
    if (!iw || !ih || iw < 200 || ih < 200) { return; }
    var sx = Math.min(1, iw / FIGW), sy = Math.min(1, ih / FIGH);
    gd.style.transformOrigin = '0 0';
    gd.style.transform = 'scale(' + sx + ',' + sy + ')';
  }
  fit();
  window.addEventListener('resize', fit);
})();
""".replace('FIGW', str(W)).replace('FIGH', str(H))

fig.write_html('out.html', post_script=FIT_JS, config={'displayModeBar': False})
